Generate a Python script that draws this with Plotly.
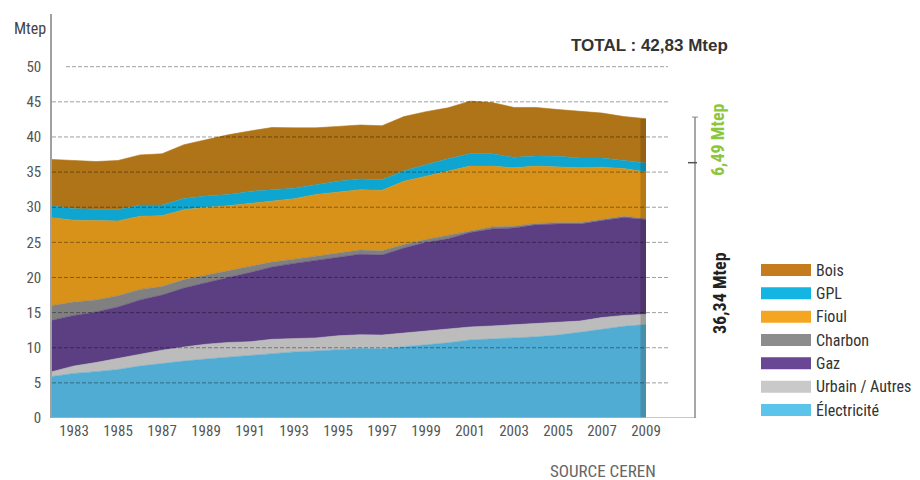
import plotly.graph_objects as go

# ---------------- data (Mtep) ----------------
years = list(range(1982, 2010))

electricite = [5.9, 6.35, 6.6, 6.9, 7.4, 7.8, 8.1, 8.4, 8.65, 8.95, 9.25, 9.4, 9.55, 9.75,
               9.9, 9.85, 10.1, 10.35, 10.7, 11.1, 11.2, 11.4, 11.55, 11.8, 12.2, 12.6, 13.05, 13.3]
urbain = [0.7, 1.05, 1.3, 1.6, 1.7, 1.85, 2.0, 2.1, 2.1, 1.9, 1.95, 1.9, 1.85, 1.95,
          1.95, 1.95, 2.0, 1.95, 1.9, 1.85, 1.9, 1.9, 1.85, 1.8, 1.6, 1.7, 1.55, 1.45]
gaz = [7.3, 7.2, 7.2, 7.3, 7.7, 7.85, 8.4, 8.8, 9.25, 9.85, 10.3, 10.7, 11.0, 11.1,
       11.45, 11.4, 12.1, 12.7, 12.9, 13.45, 13.8, 13.75, 14.1, 14.0, 13.8, 13.8, 13.95, 13.5]
charbon = [2.1, 1.9, 1.7, 1.6, 1.5, 1.2, 1.2, 1.0, 0.9, 0.9, 0.7, 0.6, 0.6, 0.6,
           0.6, 0.6, 0.5, 0.4, 0.5, 0.3, 0.3, 0.25, 0.2, 0.2, 0.2, 0.15, 0.15, 0.15]
fioul = [12.5, 11.65, 11.3, 10.65, 10.4, 10.1, 9.95, 9.7, 9.3, 8.9, 8.7, 8.6, 8.8, 8.8,
         8.6, 8.6, 9.0, 9.0, 9.15, 9.15, 8.65, 8.3, 8.15, 7.95, 7.8, 7.45, 6.8, 6.6]
gpl = [1.7, 1.65, 1.6, 1.6, 1.6, 1.5, 1.6, 1.6, 1.6, 1.75, 1.6, 1.5, 1.4, 1.5,
       1.5, 1.5, 1.5, 1.7, 1.75, 1.75, 1.75, 1.5, 1.45, 1.5, 1.4, 1.3, 1.2, 1.3]
bois = [6.6, 6.8, 6.8, 7.0, 7.15, 7.3, 7.65, 8.0, 8.5, 8.6, 8.85, 8.6, 8.1, 7.8,
        7.7, 7.7, 7.7, 7.5, 7.25, 7.5, 7.3, 7.1, 6.9, 6.65, 6.7, 6.4, 6.2, 6.3]

series_names = ["Électricité", "Urbain / Autres", "Gaz", "Charbon", "Fioul", "GPL", "Bois"]
series_values = [electricite, urbain, gaz, charbon, fioul, gpl, bois]

y_ticks = list(range(0, 55, 5))
x_ticks = list(range(1983, 2010, 2))

total_2009 = 42.83
bois_2009 = 6.49
autres_2009 = 36.34
total_text = "TOTAL : 42,83 Mtep"
bois_text = "6,49 Mtep"
autres_text = "36,34 Mtep"
unit_text = "Mtep"
source_text = "SOURCE CEREN"

# ---------------- styles ----------------
area_colors = ["#50acd2", "#bcbcbc", "#5c3e82", "#808080", "#d8921a", "#0ea5d0", "#b07418"]
legend_colors = ["#5cc3ea", "#c9c9c9", "#6a4795", "#8c8c8c", "#f4a622", "#14b5e3", "#c47c1e"]
NARROW = "Liberation Sans Narrow, Roboto Condensed, DejaVu Sans Condensed, Arial Narrow, sans-serif"
BOLD = "Liberation Sans, Arial, sans-serif"

W, H = 920, 480
OFF = 8  # page body margin: the figure starts 8px in from the window corner
PLOT_L, PLOT_R, PLOT_T, PLOT_B = 52, 668, 14, 418  # target page pixels of plot area
L = PLOT_L - OFF
T = PLOT_T - OFF
R = W - (PLOT_R - OFF)
B = H - (PLOT_B - OFF)
PW, PH = W - L - R, H - T - B


def px_x(px):
    return (px - PLOT_L) / PW


def px_y(py):
    return (PLOT_B - py) / PH


fig = go.Figure()
for name, vals, col in zip(series_names, series_values, area_colors):
    fig.add_trace(go.Scatter(
        x=years, y=vals, name=name, stackgroup="one", mode="lines",
        line=dict(width=0.6, color=col), fillcolor=col, showlegend=False,
        hoverinfo="x+y+name"))

shapes = []
# dashed gridlines drawn above the areas
for t in y_ticks[1:]:
    shapes.append(dict(type="line", xref="paper", yref="y",
                       x0=px_x(66) if t == 50 else 0, x1=1, y0=t, y1=t,
                       line=dict(color="rgba(0,0,0,0.38)", width=1, dash="4px,2px"),
                       layer="above"))
# darker strip on the last year
last_total = sum(v[-1] for v in series_values)
shapes.append(dict(type="rect", xref="x", yref="y", x0=2008.75, x1=years[-1],
                   y0=0, y1=last_total, fillcolor="rgba(30,15,0,0.18)",
                   line=dict(width=0), layer="above"))
# bottom axis line extending to the bracket
xb = px_x(695)
shapes.append(dict(type="line", xref="paper", yref="y", x0=0, x1=xb + 0.002, y0=0, y1=0,
                   line=dict(color="#b5b5b5", width=1.5)))
# bracket
shapes.append(dict(type="line", xref="paper", yref="y", x0=xb, x1=xb, y0=0, y1=total_2009,
                   line=dict(color="#8a8a8a", width=1.5)))
shapes.append(dict(type="line", xref="paper", yref="y", x0=px_x(688), x1=px_x(697),
                   y0=autres_2009, y1=autres_2009, line=dict(color="#555", width=1.5)))
shapes.append(dict(type="line", xref="paper", yref="y", x0=px_x(692), x1=px_x(698),
                   y0=total_2009, y1=total_2009, line=dict(color="#8a8a8a", width=1)))

annotations = []
# legend (top to bottom: Bois ... Électricité)
leg_rows = [270, 293.3, 316.7, 340, 363.3, 386.7, 410]
for i, (name, col) in enumerate(zip(series_names[::-1], legend_colors[::-1])):
    yc = leg_rows[i]
    shapes.append(dict(type="rect", xref="paper", yref="paper",
                       x0=px_x(761), x1=px_x(811), y0=px_y(yc + 6), y1=px_y(yc - 6),
                       fillcolor=col, line=dict(width=0)))
    annotations.append(dict(text=name, xref="paper", yref="paper", x=px_x(814), y=px_y(yc),
                            xanchor="left", yanchor="middle", showarrow=False,
                            font=dict(family=NARROW, size=16, color="#333")))

annotations += [
    dict(text=unit_text, xref="paper", yref="paper", x=px_x(12), y=px_y(28),
         xanchor="left", yanchor="middle", showarrow=False,
         font=dict(family=NARROW, size=16, color="#444")),
    dict(text="<b>" + total_text + "</b>", xref="paper", yref="paper", x=px_x(569), y=px_y(46),
         xanchor="left", yanchor="middle", showarrow=False,
         font=dict(family=BOLD, size=17, color="#333")),
    dict(text="<b>" + bois_text + "</b>", xref="paper", yref="paper", x=px_x(717), y=px_y(140),
         xanchor="center", yanchor="middle", textangle=-90, showarrow=False,
         font=dict(family=NARROW, size=18, color="#8cc63e")),
    dict(text="<b>" + autres_text + "</b>", xref="paper", yref="paper", x=px_x(719), y=px_y(293),
         xanchor="center", yanchor="middle", textangle=-90, showarrow=False,
         font=dict(family=NARROW, size=18, color="#222")),
    dict(text=source_text, xref="paper", yref="paper", x=px_x(603), y=px_y(471),
         xanchor="center", yanchor="middle", showarrow=False,
         font=dict(family=NARROW, size=17, color="#666")),
]

fig.update_layout(
    width=W, height=H,
    margin=dict(l=L, r=R, t=T, b=B, pad=0),
    paper_bgcolor="white", plot_bgcolor="white",
    showlegend=False,
    shapes=shapes, annotations=annotations,
    xaxis=dict(range=[1982, 2010], tickvals=x_ticks, ticktext=[str(v) for v in x_ticks],
               showgrid=False, zeroline=False, showline=False, ticks="",
               tickfont=dict(family=NARROW, size=15, color="#555"), ticklabelstandoff=2),
    yaxis=dict(range=[0, PH / 7.026], tickvals=y_ticks, showgrid=False, zeroline=False,
               showline=True, linecolor="#a0a0a0", linewidth=1.5, ticks="",
               tickfont=dict(family=NARROW, size=15, color="#555"), ticklabelstandoff=6),
)

fig.write_html("out.html")
